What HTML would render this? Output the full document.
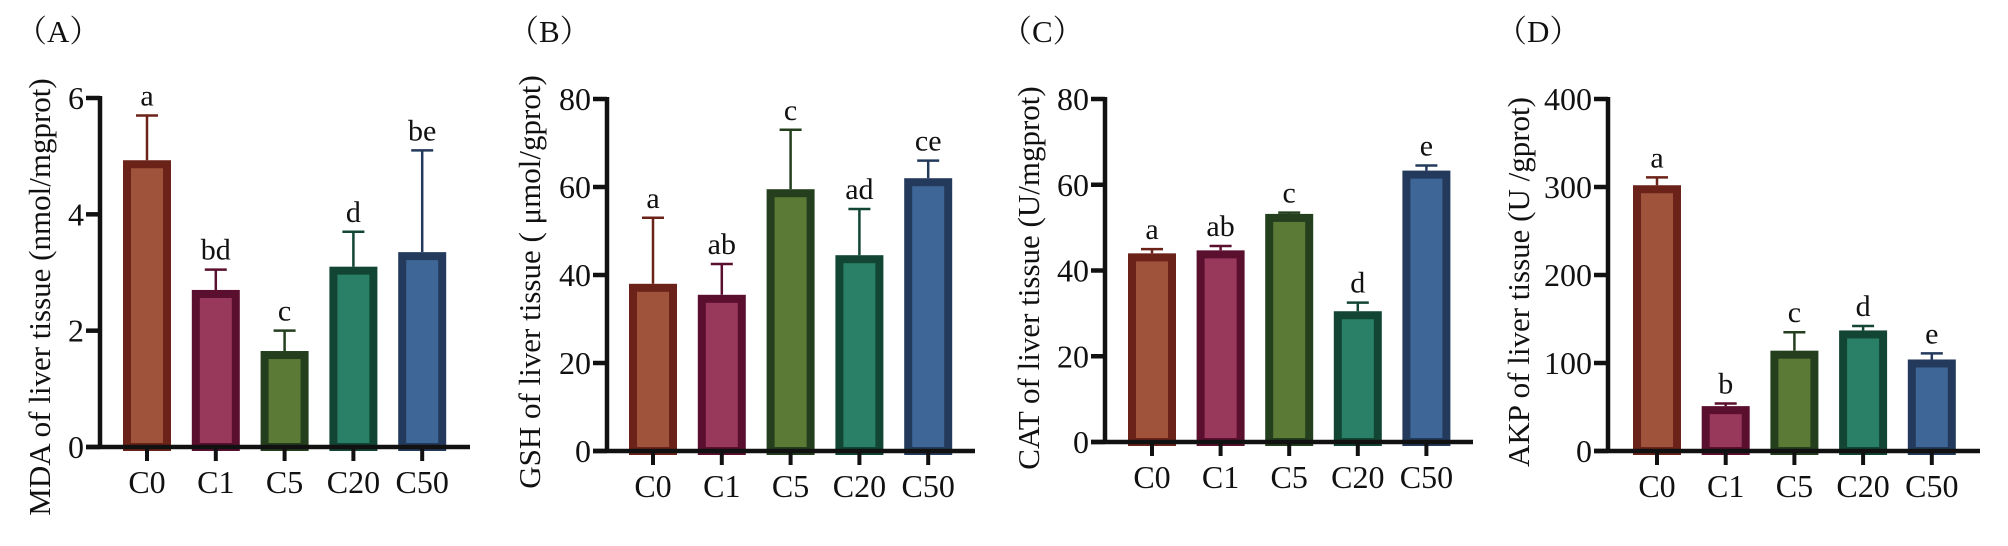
<!DOCTYPE html>
<html><head><meta charset="utf-8"><style>
html,body{margin:0;padding:0;background:#fff;}
svg{display:block;font-family:"Liberation Serif",serif;}
</style></head><body>
<svg id="fig" width="2008" height="546" viewBox="0 0 2008 546" xmlns="http://www.w3.org/2000/svg"></svg>
<script>
const categories = ["C0","C1","C5","C20","C50"];
const mdaValues = [4.93, 2.7, 1.65, 3.1, 3.35];
const mdaErrors = [0.77, 0.35, 0.35, 0.6, 1.75];
const mdaLetters = ["a","bd","c","d","be"];
const mdaTicks = [0,2,4,6];
const gshValues = [38, 35.5, 59.5, 44.5, 62];
const gshErrors = [15, 7, 13.5, 10.5, 4];
const gshLetters = ["a","ab","c","ad","ce"];
const gshTicks = [0,20,40,60,80];
const catValues = [44, 44.7, 53.2, 30.5, 63.3];
const catErrors = [1, 1, 0.3, 2, 1.2];
const catLetters = ["a","ab","c","d","e"];
const catTicks = [0,20,40,60,80];
const akpValues = [302, 51, 114, 137, 104];
const akpErrors = [9, 3, 21, 5, 7];
const akpLetters = ["a","b","c","d","e"];
const akpTicks = [0,100,200,300,400];

const fills = ["#a0533b","#98385a","#5b7a35","#2a8066","#3e6697"];
const strokes = ["#6b2218","#5a0f2f","#243f1e","#124533","#243a5c"];
const NS = "http://www.w3.org/2000/svg";
const svg = document.getElementById("fig");
function mk(tag, attrs, parent){const e=document.createElementNS(NS,tag);for(const k in attrs)e.setAttribute(k,attrs[k]);(parent||svg).appendChild(e);return e;}

function panel(cfg){
  const g = mk("g",{});
  
  
  const yMax = cfg.ticks[cfg.ticks.length-1];
  const y = v => cfg.y0 - (v/yMax)*(cfg.y0-cfg.yTop);
  const x = i => cfg.firstX + i*cfg.step;
  const lab = mk("text",{x:cfg.labelX-4,y:42,"font-size":31,fill:"#111","font-family":"\"Liberation Serif\", \"Noto Serif CJK SC\", serif"},g);
  lab.textContent = "（"+cfg.id.toUpperCase()+"）";
  
  
  const t = mk("text",{x:0,y:0,"font-size":31,fill:"#111","text-anchor":"middle",transform:`translate(${cfg.titleX},${cfg.titleY}) rotate(-90)`,"dominant-baseline":"middle"},g);
  t.textContent = cfg.title;
  
  
  cfg.values.forEach((v,i)=>{
    const cx = x(i), bw = 40, top = y(v);
    const eb = mk("g",{},g);
    
    
    const et = y(v+cfg.errors[i]);
    mk("line",{x1:cx,x2:cx,y1:top,y2:et,stroke:strokes[i],"stroke-width":2.5},eb);
    mk("line",{x1:cx-11,x2:cx+11,y1:et,y2:et,stroke:strokes[i],"stroke-width":2.5},eb);
    const r = mk("rect",{x:cx-bw/2,y:top+4,width:bw,height:cfg.y0-top-4,fill:fills[i],stroke:strokes[i],"stroke-width":8},g);
    
    
    const l = mk("text",{x:cx,y:et-10,"font-size":30,fill:"#111","text-anchor":"middle"},g);
    l.textContent = cfg.letters[i];
    
    
    mk("line",{x1:cx,x2:cx,y1:cfg.y0,y2:cfg.y0+14,stroke:"#111","stroke-width":4},g);
    const c = mk("text",{x:cx,y:cfg.y0+46,"font-size":32,fill:"#111","text-anchor":"middle"},g);
    c.textContent = categories[i];
    
    
  });
  const ya = mk("line",{x1:cfg.axisX,x2:cfg.axisX,y1:cfg.yTop-2,y2:cfg.y0+2,stroke:"#111","stroke-width":4.5},g);
  
  
  const xa = mk("line",{x1:cfg.axisX-14,x2:cfg.xEnd,y1:cfg.y0,y2:cfg.y0,stroke:"#111","stroke-width":4.5},g);
  
  
  cfg.ticks.forEach(tv=>{
    const ty = y(tv);
    mk("line",{x1:cfg.axisX-14,x2:cfg.axisX,y1:ty,y2:ty,stroke:"#111","stroke-width":4.5},g);
    const tl = mk("text",{x:cfg.axisX-16,y:ty+11,"font-size":32,fill:"#111","text-anchor":"end"},g);
    tl.textContent = tv;
    
    
  });
}
panel({id:"a",values:mdaValues,errors:mdaErrors,letters:mdaLetters,ticks:mdaTicks,axisX:100,y0:447,yTop:98,firstX:147,step:68.8,xEnd:470,labelX:20,titleX:43,titleY:297,title:"MDA of liver tissue (nmol/mgprot)"});
panel({id:"b",values:gshValues,errors:gshErrors,letters:gshLetters,ticks:gshTicks,axisX:607,y0:451,yTop:99,firstX:653,step:68.8,xEnd:975,labelX:512,titleX:533,titleY:282,title:"GSH of liver tissue ( μmol/gprot)"});
panel({id:"c",values:catValues,errors:catErrors,letters:catLetters,ticks:catTicks,axisX:1105,y0:442,yTop:99,firstX:1152,step:68.6,xEnd:1473,labelX:1005,titleX:1032,titleY:278,title:"CAT of liver tissue (U/mgprot)"});
panel({id:"d",values:akpValues,errors:akpErrors,letters:akpLetters,ticks:akpTicks,axisX:1608,y0:451,yTop:99,firstX:1657,step:68.7,xEnd:1980,labelX:1500,titleX:1522,titleY:282,title:"AKP of liver tissue (U /gprot)"});
</script>
</body></html>
